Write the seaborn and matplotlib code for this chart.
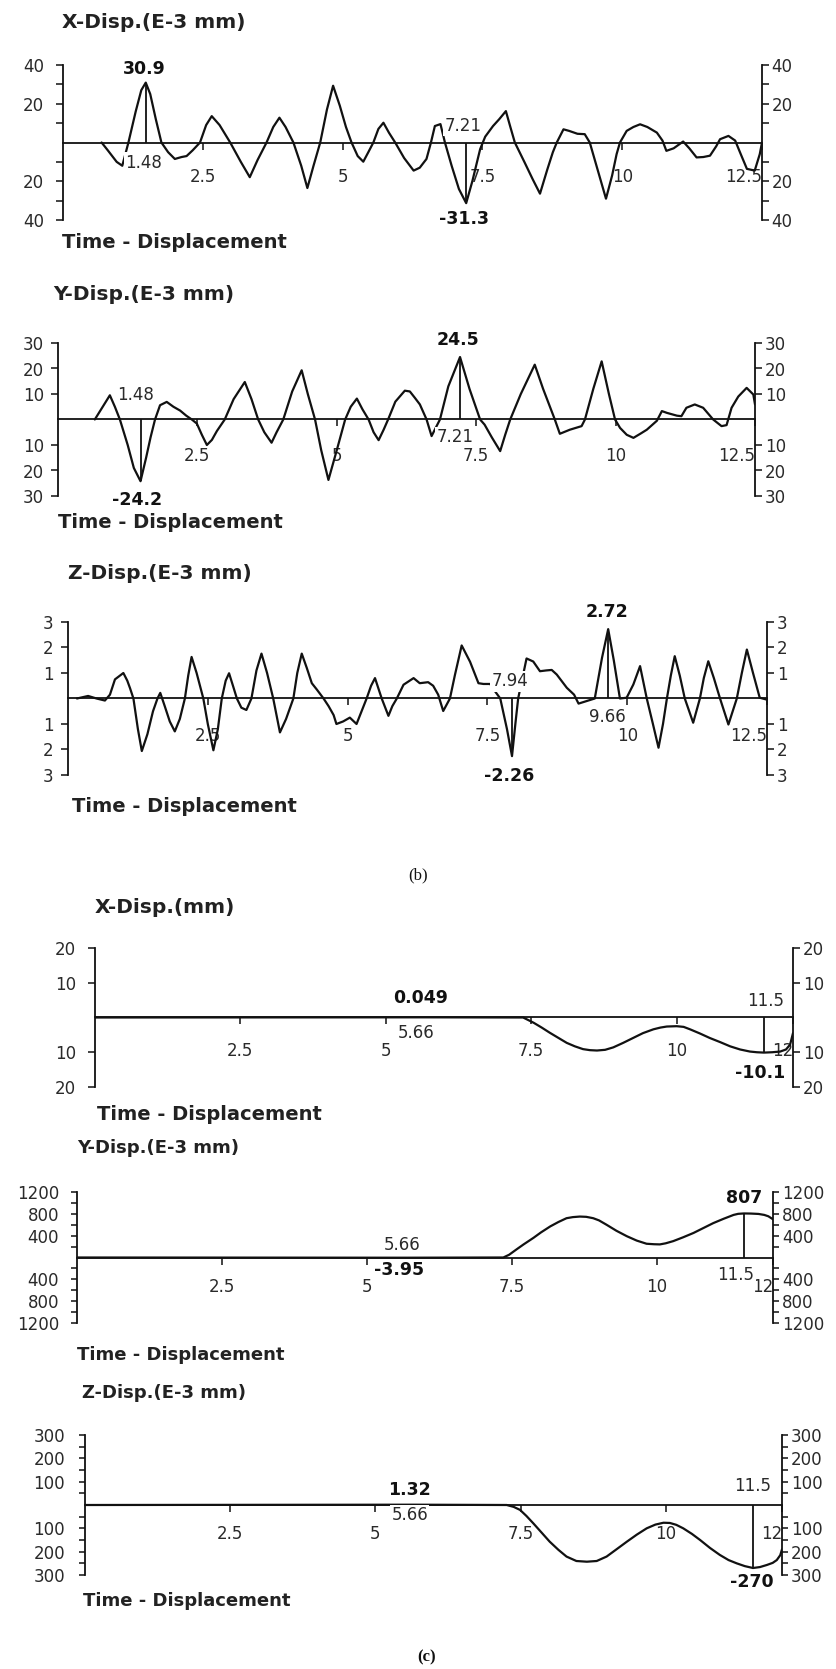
import matplotlib
matplotlib.use("Agg")
import matplotlib.pyplot as plt
from matplotlib.transforms import ScaledTranslation
import seaborn as sns

W, H = 837, 1669
INK = "#111111"
GREY = "#2a2a2a"

# ---------------- (b) time histories, E-3 mm ----------------
bx_time = [0.69, 0.80, 0.96, 1.06, 1.17, 1.30, 1.40, 1.48, 1.56, 1.66,
           1.76, 1.88, 2.00, 2.12, 2.21, 2.32, 2.45, 2.56, 2.66, 2.80,
           2.99, 3.18, 3.34, 3.48, 3.64, 3.76, 3.87, 3.98, 4.12, 4.26,
           4.37, 4.48, 4.60, 4.72, 4.83, 4.95, 5.06, 5.16, 5.27, 5.37,
           5.46, 5.55, 5.64, 5.73, 5.83, 5.94, 6.10, 6.27, 6.38, 6.50,
           6.58, 6.65, 6.75, 6.83, 6.95, 7.08, 7.21, 7.32, 7.46, 7.55,
           7.69, 7.80, 7.92, 8.00, 8.08, 8.25, 8.40, 8.53, 8.66, 8.76,
           8.83, 8.95, 9.05, 9.20, 9.33, 9.42, 9.52, 9.62, 9.71, 9.82,
           9.90, 9.96, 10.08, 10.20, 10.32, 10.45, 10.62, 10.72, 10.79, 10.92,
           11.09, 11.20, 11.33, 11.45, 11.57, 11.68, 11.75, 11.90, 12.02, 12.12,
           12.23, 12.37, 12.46, 12.50]
bx_disp = [0, -4, -10, -12, 0, 16, 27, 30.9, 25, 12,
           0, -5, -8.5, -7.5, -7, -4, 0, 9, 13.6, 9,
           0, -10, -17.9, -9, 0, 8, 12.8, 8, 0, -12,
           -23.5, -12, 0, 17, 29.3, 19, 8, 0, -7, -9.9,
           -5, 0, 7, 10.2, 5, 0, -8, -14.5, -13, -8.5,
           0, 8.5, 9.5, 0, -12, -24, -31.3, -20, -3.4, 3,
           8.5, 12, 16.2, 8, 0, -10, -19, -26.4, -14, -5,
           0, 6.8, 6, 4.5, 4.3, 0, -10, -20, -29, -17,
           -6, 0, 6, 8, 9.4, 8, 5.1, 1, -4.3, -3,
           0.5, -3, -7.7, -7.5, -6.8, -2, 1.7, 3.4, 1, -6,
           -13.6, -14.5, -6, 0]
bx_mark_time = [1.48, 7.21]
bx_mark_disp = [30.9, -31.3]
bx_yticks = [-40, -30, -20, -10, 10, 20, 30, 40]
bx_ylabels = ["40", "", "20", "", "", "20", "", "40"]

by_time = [0.66, 0.93, 1.02, 1.11, 1.25, 1.36, 1.48, 1.58, 1.66, 1.74,
           1.83, 1.95, 2.07, 2.19, 2.30, 2.40, 2.49, 2.58, 2.67, 2.76,
           2.85, 2.99, 3.15, 3.35, 3.47, 3.59, 3.70, 3.83, 3.92, 4.04,
           4.20, 4.37, 4.48, 4.61, 4.72, 4.85, 5.00, 5.15, 5.25, 5.36,
           5.46, 5.57, 5.66, 5.75, 5.84, 5.92, 6.05, 6.22, 6.31, 6.40,
           6.49, 6.61, 6.70, 6.78, 6.85, 7.00, 7.21, 7.38, 7.57, 7.65,
           7.78, 7.93, 8.02, 8.11, 8.30, 8.55, 8.70, 8.91, 9.00, 9.18,
           9.39, 9.45, 9.60, 9.75, 9.88, 9.99, 10.08, 10.20, 10.32, 10.45,
           10.56, 10.74, 10.83, 10.92, 11.10, 11.18, 11.27, 11.42, 11.57, 11.75,
           11.90, 11.99, 12.08, 12.20, 12.35, 12.47, 12.50]
by_disp = [0, 9.5, 5, 0, -10, -19, -24.2, -15, -7, 0,
           5.6, 6.9, 5, 3.5, 1.5, 0, -1.6, -6, -10, -8,
           -4.5, 0, 8, 14.7, 8, 0, -5, -9.1, -5, 0,
           11, 19.3, 10, 0, -12, -23.7, -12, 0, 5, 8.2,
           4, 0, -5, -8.1, -4, 0, 7, 11.3, 11, 8.5,
           5.9, 0, -6.5, -3, 0, 13, 24.5, 12, 0, -2,
           -7, -12.4, -6, 0, 10, 21.5, 12, 0, -5.6, -4,
           -2.6, 0, 12, 22.8, 10, 0, -3.3, -6, -7.2, -5.5,
           -4, -0.5, 3.3, 2.6, 1.5, 1.3, 4.6, 5.9, 4.6, 0,
           -2.6, -2.2, 4.6, 9, 12.4, 9.8, 5.9]
by_mark_time = [1.48, 7.21]
by_mark_disp = [-24.2, 24.5]
by_yticks = [-30, -20, -10, 10, 20, 30]
by_ylabels = ["30", "20", "10", "10", "20", "30"]

bz_time = [0.16, 0.36, 0.51, 0.66, 0.75, 0.84, 0.99, 1.06, 1.11, 1.17,
           1.25, 1.32, 1.42, 1.52, 1.60, 1.65, 1.73, 1.82, 1.91, 2.00,
           2.09, 2.15, 2.21, 2.30, 2.42, 2.50, 2.60, 2.68, 2.75, 2.82,
           2.88, 2.95, 3.02, 3.10, 3.19, 3.28, 3.37, 3.46, 3.56, 3.67,
           3.79, 3.90, 4.03, 4.10, 4.18, 4.27, 4.36, 4.45, 4.57, 4.66,
           4.75, 4.80, 4.92, 5.04, 5.16, 5.25, 5.34, 5.42, 5.49, 5.55,
           5.61, 5.73, 5.80, 5.88, 6.00, 6.18, 6.29, 6.44, 6.53, 6.62,
           6.71, 6.83, 6.92, 7.04, 7.19, 7.34, 7.43, 7.55, 7.63, 7.73,
           7.85, 7.94, 8.00, 8.05, 8.20, 8.32, 8.44, 8.55, 8.65, 8.74,
           8.92, 9.05, 9.13, 9.42, 9.55, 9.66, 9.76, 9.87, 9.99, 10.11,
           10.23, 10.35, 10.46, 10.56, 10.64, 10.71, 10.78, 10.85, 10.94, 11.03,
           11.18, 11.30, 11.37, 11.45, 11.55, 11.66, 11.81, 11.96, 12.05, 12.14,
           12.25, 12.37, 12.49]
bz_disp = [0, 0.1, 0, -0.08, 0.15, 0.75, 1.0, 0.7, 0.4, 0,
           -1.2, -2.06, -1.4, -0.5, 0, 0.22, -0.3, -0.9, -1.29, -0.8,
           0, 0.9, 1.63, 1.0, 0, -1.0, -2.03, -1.2, 0, 0.7,
           0.99, 0.5, 0, -0.36, -0.45, 0, 1.1, 1.76, 1.0, 0,
           -1.33, -0.8, 0, 1.0, 1.76, 1.2, 0.6, 0.35, 0, -0.3,
           -0.65, -1.0, -0.9, -0.75, -1.0, -0.5, 0, 0.5, 0.8, 0.4,
           0, -0.68, -0.3, 0, 0.54, 0.8, 0.6, 0.64, 0.5, 0.15,
           -0.49, 0, 0.93, 2.08, 1.44, 0.6, 0.57, 0.57, 0.3, 0,
           -1.2, -2.26, -1.0, 0, 1.57, 1.45, 1.07, 1.1, 1.12, 0.94,
           0.42, 0.15, -0.2, 0, 1.6, 2.72, 1.5, 0, 0.03, 0.55,
           1.27, 0, -1.0, -1.93, -1.0, 0, 0.9, 1.66, 0.9, 0,
           -0.95, 0, 0.8, 1.46, 0.8, 0, -1.02, 0, 1.0, 1.92,
           1.0, 0.03, -0.04]
bz_mark_time = [7.94, 9.66]
bz_mark_disp = [-2.26, 2.72]
bz_yticks = [-3, -2, -1, 1, 2, 3]
bz_ylabels = ["3", "2", "1", "1", "2", "3"]

b_xticks = [2.5, 5, 7.5, 10, 12.5]
b_xlabels = ["2.5", "5", "7.5", "10", "12.5"]

# ---------------- (c) time histories ----------------
cx_time = [0, 5.66, 7.36, 7.54, 7.68, 7.82, 7.97, 8.11, 8.25, 8.39,
           8.51, 8.63, 8.77, 8.91, 9.08, 9.25, 9.42, 9.60, 9.72, 9.83,
           10.00, 10.12, 10.23, 10.40, 10.57, 10.75, 10.92, 11.09, 11.26, 11.38,
           11.50, 11.64, 11.78, 11.88, 11.95, 12.00]
cx_disp = [0, 0.049, 0, -1.5, -2.9, -4.4, -5.9, -7.3, -8.3, -9.1,
           -9.4, -9.5, -9.3, -8.6, -7.3, -5.9, -4.5, -3.4, -2.9, -2.6,
           -2.5, -2.7, -3.4, -4.6, -5.9, -7.1, -8.3, -9.2, -9.8, -10.0,
           -10.1, -10.0, -9.8, -9.2, -7.8, -4.5]
cx_mark_time = [5.66, 11.5]
cx_mark_disp = [0.049, -10.1]
cx_yticks = [-20, -10, 10, 20]
cx_ylabels = ["20", "10", "10", "20"]

cy_time = [0, 5.66, 7.35, 7.45, 7.58, 7.70, 7.87, 8.00, 8.16, 8.30,
           8.44, 8.55, 8.67, 8.78, 8.90, 9.00, 9.13, 9.30, 9.48, 9.65,
           9.82, 9.95, 10.05, 10.15, 10.28, 10.45, 10.63, 10.80, 10.97, 11.15,
           11.32, 11.40, 11.50, 11.62, 11.75, 11.85, 11.92, 12.00]
cy_disp = [0, -3.95, 0, 50, 150, 240, 360, 460, 570, 650,
           720, 740, 750, 745, 720, 680, 600, 490, 390, 310,
           252, 243, 240, 260, 300, 370, 450, 540, 630, 710,
           780, 800, 807, 805, 798, 780, 755, 700]
cy_mark_time = [5.66, 11.5]
cy_mark_disp = [-3.95, 807]
cy_yticks = [-1200, -1000, -800, -600, -400, -200, 200, 400, 600, 800, 1000, 1200]
cy_ylabels = ["1200", "", "800", "", "400", "", "", "400", "", "800", "", "1200"]

cz_time = [0, 5.66, 7.26, 7.38, 7.49, 7.60, 7.72, 7.86, 8.00, 8.15,
           8.29, 8.46, 8.64, 8.81, 8.98, 9.15, 9.33, 9.50, 9.67, 9.82,
           9.96, 10.07, 10.18, 10.30, 10.45, 10.59, 10.76, 10.93, 11.08, 11.22,
           11.36, 11.50, 11.62, 11.74, 11.84, 11.91, 11.97, 12.00]
cz_disp = [0, 1.32, 0, -8, -21, -47, -79, -118, -157, -192,
           -221, -240, -243, -240, -221, -190, -157, -127, -100, -84,
           -76, -77, -85, -100, -124, -150, -184, -214, -236, -250,
           -262, -270, -266, -257, -248, -236, -215, -190]
cz_mark_time = [5.66, 11.5]
cz_mark_disp = [1.32, -270]
cz_yticks = [-300, -250, -200, -150, -100, -50, 50, 100, 150, 200, 250, 300]
cz_ylabels = ["300", "", "200", "", "100", "", "", "100", "", "200", "", "300"]

c_xticks = [2.5, 5, 7.5, 10, 12]
c_xlabels = ["2.5", "5", "7.5", "10", "12"]

# ---------------- layout (pixel geometry of each panel) ----------------
panels = [
    dict(title="X-Disp.(E-3 mm)", time=bx_time, disp=bx_disp, mt=bx_mark_time, mv=bx_mark_disp,
         yticks=bx_yticks, ylabels=bx_ylabels, ylim=40, xticks=b_xticks, xlabels=b_xlabels, xmax=12.5,
         box=(63, 762, 65, 220), title_at=(62, 22), foot_at=(62, 243), big=True, xpad=13.2, lshift=9,
         val_off=[(-2, 14), (-2, -16)], time_off=[(-2, -20), (-3, 17)]),
    dict(title="Y-Disp.(E-3 mm)", time=by_time, disp=by_disp, mt=by_mark_time, mv=by_mark_disp,
         yticks=by_yticks, ylabels=by_ylabels, ylim=30, xticks=b_xticks, xlabels=b_xlabels, xmax=12.5,
         box=(58, 755, 343, 496), title_at=(53, 295), foot_at=(58, 523), big=True, xpad=14.5, lshift=4,
         val_off=[(-3, -19), (-2, 17.5)], time_off=[(-5, 24), (-5, -18)]),
    dict(title="Z-Disp.(E-3 mm)", time=bz_time, disp=bz_disp, mt=bz_mark_time, mv=bz_mark_disp,
         yticks=bz_yticks, ylabels=bz_ylabels, ylim=3, xticks=b_xticks, xlabels=b_xlabels, xmax=12.5,
         box=(68, 767, 622, 775), title_at=(68, 573), foot_at=(72, 806), big=True, xpad=15.3, lshift=5,
         val_off=[(-2.5, -19.4), (-1, 17.6)], time_off=[(-2, 17), (-1, -19)]),
    dict(title="X-Disp.(mm)", time=cx_time, disp=cx_disp, mt=cx_mark_time, mv=cx_mark_disp,
         yticks=cx_yticks, ylabels=cx_ylabels, ylim=20, xticks=c_xticks, xlabels=c_xlabels, xmax=12,
         box=(95, 793, 948, 1087), title_at=(95, 907), foot_at=(97, 1114), big=True, xpad=13, lshift=9,
         val_off=[(-4, 19), (-4, -20)], time_off=[(-8.5, -16), (1.5, 16)]),
    dict(title="Y-Disp.(E-3 mm)", time=cy_time, disp=cy_disp, mt=cy_mark_time, mv=cy_mark_disp,
         yticks=cy_yticks, ylabels=cy_ylabels, ylim=1200, xticks=c_xticks, xlabels=c_xlabels, xmax=12,
         box=(77, 773, 1192, 1323), title_at=(77, 1148), foot_at=(77, 1355), big=False, xpad=9.5, lshift=9,
         val_off=[(-6, -12), (0, 15)], time_off=[(-3, 13), (-8, -17)]),
    dict(title="Z-Disp.(E-3 mm)", time=cz_time, disp=cz_disp, mt=cz_mark_time, mv=cz_mark_disp,
         yticks=cz_yticks, ylabels=cz_ylabels, ylim=300, xticks=c_xticks, xlabels=c_xlabels, xmax=12,
         box=(85, 782, 1435, 1575), title_at=(82, 1393), foot_at=(83, 1601), big=False, xpad=9.5, lshift=11,
         val_off=[(-4, 15), (-1, -14)], time_off=[(-4, -10), (0, 19)]),
]

sns.set_theme(style="white")
plt.rcParams["font.family"] = ["DejaVu Sans"]
plt.rcParams["axes.linewidth"] = 1.2

fig = plt.figure(figsize=(W / 100, H / 100), dpi=100)
fig.patch.set_facecolor("white")

PX = 72 / 100  # pixels -> points
TICK_SIZE = 12
VALUE_SIZE = 12.5
TIME_SIZE = 12


def draw_panel(p):
    x0, x1, yt, yb = p["box"]
    ax = fig.add_axes([x0 / W, 1 - yb / H, (x1 - x0) / W, (yb - yt) / H])
    ax.patch.set_alpha(0)

    sns.lineplot(x=p["time"], y=p["disp"], ax=ax, color=INK, linewidth=1.6,
                 estimator=None, sort=False, zorder=3)
    ax.set_xlim(0, p["xmax"])
    ax.set_ylim(-p["ylim"], p["ylim"])
    ax.set_xlabel("")
    ax.set_ylabel("")

    ax.spines["top"].set_visible(False)
    ax.spines["bottom"].set_position(("data", 0))
    for s in ("left", "right", "bottom"):
        ax.spines[s].set_color(INK)
        ax.spines[s].set_linewidth(1.3)

    # time axis along the zero line
    ax.set_xticks(p["xticks"], p["xlabels"])
    ax.tick_params(axis="x", which="major", bottom=True, top=False, direction="out",
                   length=5, width=1.1, color=INK, pad=p["xpad"], labelsize=TICK_SIZE,
                   labelcolor=GREY)
    xl = ax.get_xticklabels()
    for lb in xl:
        lb.set_bbox(dict(facecolor="white", edgecolor="none", pad=3))
    xl[-1].set_horizontalalignment("right")

    # displacement scales on both sides (magnitudes only)
    ax.set_yticks(p["yticks"], p["ylabels"])
    ax.tick_params(axis="y", which="major", left=True, right=True, labelleft=True, labelright=True,
                   direction="out", length=5 if p["big"] else 4.5, width=1.1, color=INK, pad=2,
                   labelsize=TICK_SIZE, labelcolor=GREY)
    shift = ScaledTranslation(-p["lshift"] / 100, 0, fig.dpi_scale_trans)
    for tk in ax.yaxis.get_major_ticks():
        tk.label1.set_transform(tk.label1.get_transform() + shift)

    # extreme values with their times
    for i, (t, v) in enumerate(zip(p["mt"], p["mv"])):
        ax.vlines(t, 0, v, color=INK, linewidth=1.3, zorder=3)
        dxv, dyv = p["val_off"][i]
        dxt, dyt = p["time_off"][i]
        ax.annotate(f"{v:g}", xy=(t, v), xytext=(dxv * PX, dyv * PX), textcoords="offset points",
                    ha="center", va="center", fontsize=VALUE_SIZE, fontweight="bold", color=INK,
                    zorder=4, bbox=dict(facecolor="white", edgecolor="none", pad=1))
        ax.annotate(f"{t:g}", xy=(t, 0), xytext=(dxt * PX, dyt * PX), textcoords="offset points",
                    ha="center", va="center", fontsize=TIME_SIZE, color=GREY, zorder=4,
                    bbox=dict(facecolor="white", edgecolor="none", pad=1))

    size_t = 14.5 if p["big"] else 13
    size_f = 14 if p["big"] else 13
    tx, ty = p["title_at"]
    fig.text(tx / W, 1 - ty / H, p["title"], ha="left", va="center", fontsize=size_t,
             fontweight="bold", color="#222222")
    fx, fy = p["foot_at"]
    fig.text(fx / W, 1 - fy / H, "Time - Displacement", ha="left", va="center", fontsize=size_f,
             fontweight="bold", color="#222222")


for p in panels:
    draw_panel(p)

fig.text(418 / W, 1 - 875 / H, "(b)", ha="center", va="center", fontsize=12,
         family=["Liberation Serif", "DejaVu Serif"], color=INK)
fig.text(427 / W, 1 - 1657 / H, "(c)", ha="center", va="center", fontsize=12,
         family=["Liberation Serif", "DejaVu Serif"], fontweight="bold", color=INK)

fig.savefig("out.png", dpi=100, facecolor="white")
